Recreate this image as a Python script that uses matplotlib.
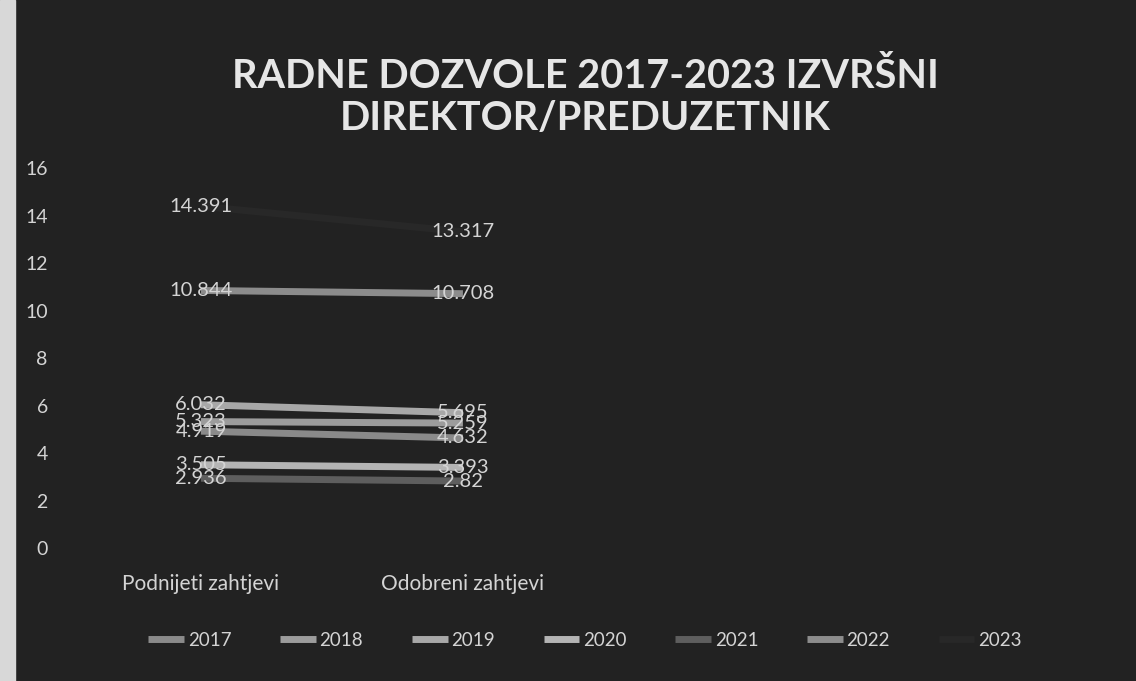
import matplotlib.pyplot as plt
from matplotlib.patches import Rectangle

# data
categories = ['Podnijeti zahtjevi', 'Odobreni zahtjevi', '', '']
years = ['2017', '2018', '2019', '2020', '2021', '2022', '2023']
podnijeti = [4.919, 5.323, 6.032, 3.505, 2.936, 10.844, 14.391]
odobreni = [4.632, 5.259, 5.695, 3.393, 2.82, 10.708, 13.317]
labels_p = ['4.919', '5.323', '6.032', '3.505', '2.936', '10.844', '14.391']
labels_o = ['4.632', '5.259', '5.695', '3.393', '2.82', '10.708', '13.317']
colors = ['#8a8a8a', '#9c9c9c', '#a8a8a8', '#b4b4b4', '#5e5e5e', '#8c8c8c', '#282828']

bg = '#222222'
txt = '#d4d4d4'
plt.rcParams['font.family'] = ['Lato', 'DejaVu Sans']

fig = plt.figure(figsize=(11.36, 6.81), dpi=100, facecolor=bg)
ax = fig.add_axes([0.0616, 0.1953, 0.9224, 0.558])
ax.set_facecolor(bg)

for i, yr in enumerate(years):
    ax.plot([0, 1], [podnijeti[i], odobreni[i]], color=colors[i], lw=5,
            solid_capstyle='butt', label=yr)
for i in range(len(years)):
    ax.text(0, podnijeti[i], labels_p[i], color=txt, fontsize=14.5, ha='center', va='center')
    ax.text(1, odobreni[i], labels_o[i], color=txt, fontsize=14.5, ha='center', va='center')

ax.set_xlim(-0.5, 3.5)
ax.set_ylim(0, 16)
ax.set_yticks(range(0, 17, 2))
ax.set_xticks(range(len(categories)))
ax.set_xticklabels(categories)
ax.tick_params(axis='x', length=0, pad=19, labelsize=15, labelcolor=txt)
ax.tick_params(axis='y', length=0, pad=16, labelsize=14, labelcolor=txt)
for s in ax.spines.values():
    s.set_visible(False)

fig.text(0.515, 0.857, 'RADNE DOZVOLE 2017-2023 IZVRŠNI\nDIREKTOR/PREDUZETNIK',
         ha='center', va='center', color='#e6e6e6', fontsize=28.5, fontweight='bold',
         linespacing=1.15)

fig.legend(loc='center', bbox_to_anchor=(0.515, 0.06), ncol=7, frameon=False,
           fontsize=13.5, labelcolor=txt, handlelength=1.9, columnspacing=2.6,
           handletextpad=0.2)

# paper edge from the scan
fig.patches.append(Rectangle((0, 0), 0.013, 1, transform=fig.transFigure,
                             color='#d8d8d8', zorder=0))

fig.savefig('out.png', dpi=100, facecolor=bg)
